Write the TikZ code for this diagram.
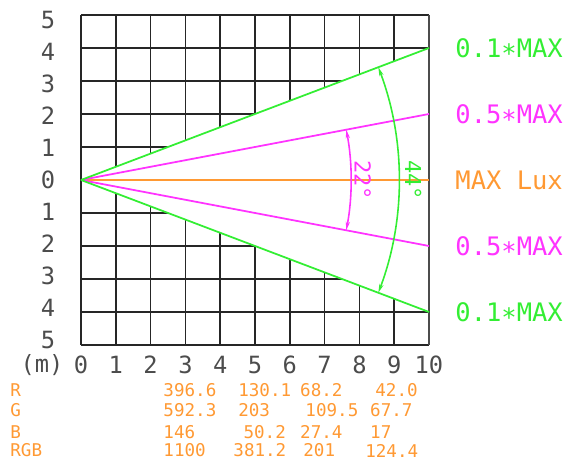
\documentclass[tikz,border=0pt]{standalone}
\usepackage{fontspec}
\setmainfont{DejaVu Sans Mono}
\usepackage{tikz}
\usetikzlibrary{arrows.meta}

\definecolor{beamgreen}{RGB}{51,238,51}
\definecolor{beammag}{RGB}{255,51,255}
\definecolor{luxorange}{RGB}{255,153,51}

\begin{document}
\begin{tikzpicture}[x = 0.696cm, y = 0.66cm,
  ax/.style={inner sep = 0pt, text = black!70, font = \fontsize{13.5}{14}\selectfont},
  lbl/.style={inner sep = 0pt, anchor = west, font = \fontsize{14.5}{15}\selectfont},
  tbl/.style={inner sep = 0pt, anchor = west, text = luxorange, font = \fontsize{10}{10}\selectfont},
  ang/.style={inner sep = 0pt, rotate = -90, font = \fontsize{12.5}{13}\selectfont},
  dim/.style={line width = 0.9pt, {Stealth[length=5pt,width=2.4pt]}-{Stealth[length=5pt,width=2.4pt]}}]
\useasboundingbox (-2.328,-8.515) rectangle (14.282,5.4545);
\coordinate (src) at (0,0);
\coordinate (gUp) at (10,4);
\coordinate (mUp) at (10,2);
\coordinate (oEnd) at (10,0);
\coordinate (mDn) at (10,-2);
\coordinate (gDn) at (10,-4);
\draw[step=1, line width=1pt, black!85] (0,-5) grid (10,5);
\fill[white] (src) -- (gUp) -- (gDn) -- cycle;
\draw[line width=1.1pt, black!70] (10,-5) -- (10,5);
%axes
\foreach \v [count=\k] in {5,4,...,-5}{\pgfmathtruncatemacro\a{abs(\v)}
  \path (-0.95,0.97*\v) node[ax] (ylab\k) {\a};}
\foreach \i in {0,...,10}{\path (\i,-5.6) node[ax] (xlab\i) {\i};}
\path (-1.12,-5.6) node[ax] (unit) {(m)};
%beam
\draw[luxorange, line width=1pt] (src) -- (oEnd);
\draw[beammag, line width=1pt] (src) -- (mUp) (src) -- (mDn);
\draw[beamgreen, line width=1pt] (src) -- (gUp) (src) -- (gDn);
\draw[dim, beamgreen] ([shift={(-20.77:6.36cm)}]src) arc[start angle=-20.77, end angle=20.77, radius=6.36cm];
\draw[dim, beammag] ([shift={(-10.74:5.4cm)}]src) arc[start angle=-10.74, end angle=10.74, radius=5.4cm];
\path (8.1,0) node[ang, beammag] (half) {22°};
\path (9.55,0) node[ang, beamgreen] (full) {44°};
\path (10.75,4) node[lbl, beamgreen] (tenUp) {0.1∗MAX};
\path (10.75,2) node[lbl, beammag] (halfUp) {0.5∗MAX};
\path (10.75,0) node[lbl, luxorange] (peak) {MAX Lux};
\path (10.75,-2) node[lbl, beammag] (halfDn) {0.5∗MAX};
\path (10.75,-4) node[lbl, beamgreen] (tenDn) {0.1∗MAX};
%table
\path (-2.04,-6.36) node[tbl] (rowR) {R};
\path (-2.04,-6.97) node[tbl] (rowG) {G};
\path (-2.04,-7.64) node[tbl] (rowB) {B};
\path (-2.04,-8.2) node[tbl] (rowRGB) {RGB};
\path (2.36,-6.36) node[tbl] (r1) {396.6} (4.51,-6.36) node[tbl] (r2) {130.1}
      (6.29,-6.36) node[tbl] (r3) {68.2} (8.45,-6.36) node[tbl] (r4) {42.0};
\path (2.36,-6.97) node[tbl] (g1) {592.3} (4.51,-6.97) node[tbl] (g2) {203}
      (6.44,-6.97) node[tbl] (g3) {109.5} (8.30,-6.97) node[tbl] (g4) {67.7};
\path (2.36,-7.64) node[tbl] (b1) {146} (4.66,-7.64) node[tbl] (b2) {50.2}
      (6.29,-7.64) node[tbl] (b3) {27.4} (8.30,-7.64) node[tbl] (b4) {17};
\path (2.36,-8.2) node[tbl] (s1) {1100} (4.37,-8.2) node[tbl] (s2) {381.2}
      (6.38,-8.2) node[tbl] (s3) {201} (8.16,-8.2) node[tbl] (s4) {124.4};
\end{tikzpicture}
\end{document}
